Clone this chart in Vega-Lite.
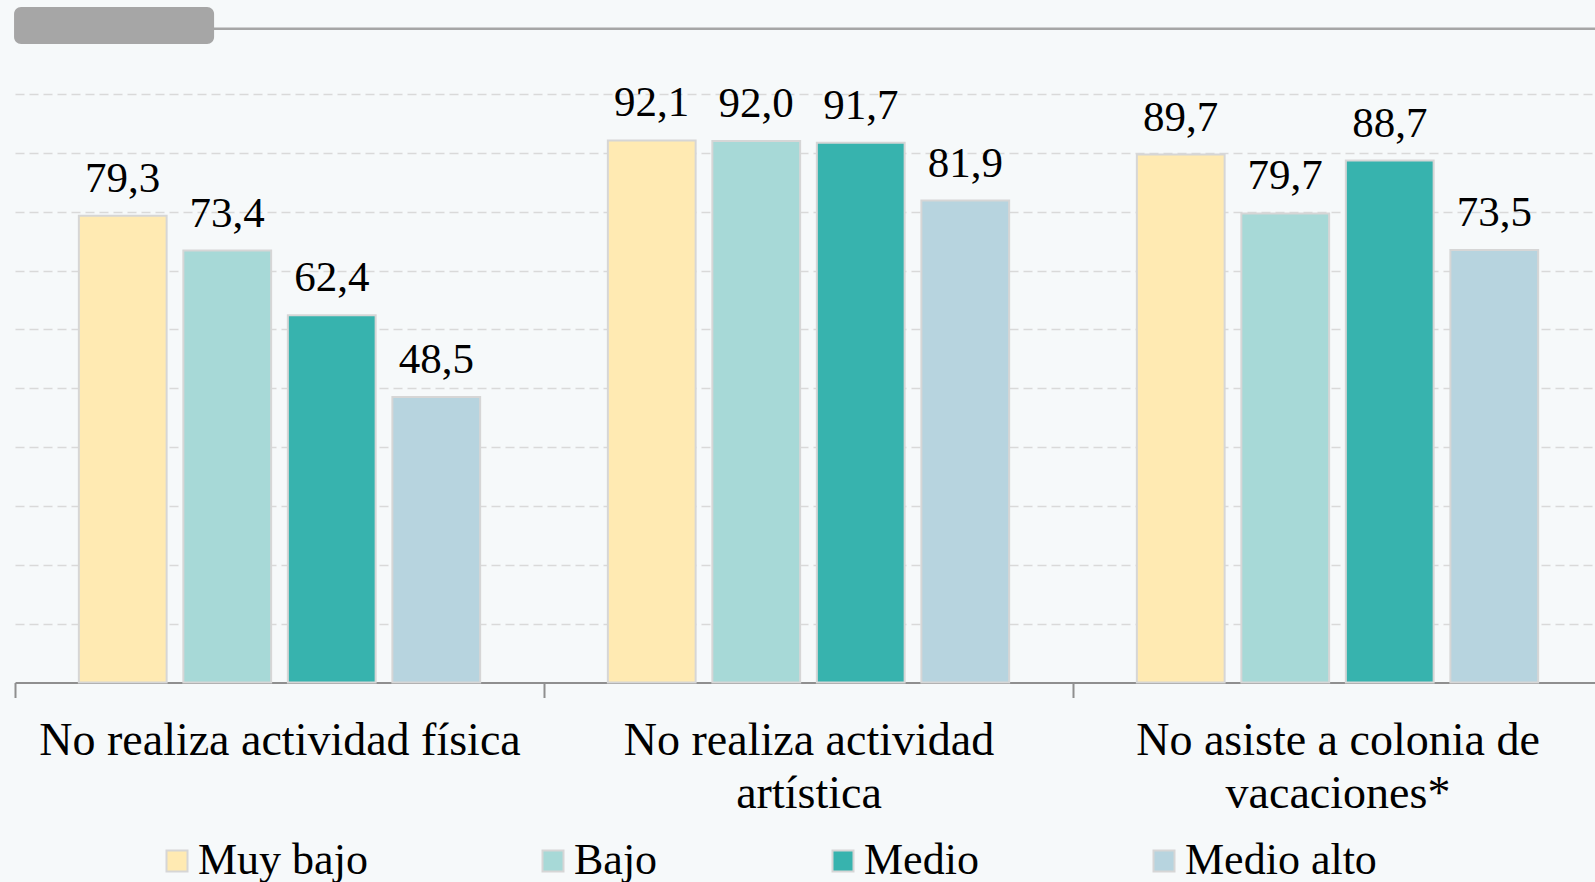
{
  "$schema": "https://vega.github.io/schema/vega-lite/v6.json",
  "width": 1580,
  "height": 588.5,
  "autosize": {"type": "none"},
  "padding": {"left": 15, "top": 94, "right": 0, "bottom": 199.5},
  "background": "#f6f9fa",
  "config": {
    "view": {"stroke": null},
    "font": "Liberation Serif",
    "locale": {"number": {"decimal": ",", "thousands": ".", "grouping": [3], "currency": ["", " €"]}}
  },
  "data": {
    "values": [
      {"categoria": "No realiza actividad física", "nivel": "Muy bajo", "valor": 79.3},
      {"categoria": "No realiza actividad física", "nivel": "Bajo", "valor": 73.4},
      {"categoria": "No realiza actividad física", "nivel": "Medio", "valor": 62.4},
      {"categoria": "No realiza actividad física", "nivel": "Medio alto", "valor": 48.5},
      {"categoria": "No realiza actividad artística", "nivel": "Muy bajo", "valor": 92.1},
      {"categoria": "No realiza actividad artística", "nivel": "Bajo", "valor": 92.0},
      {"categoria": "No realiza actividad artística", "nivel": "Medio", "valor": 91.7},
      {"categoria": "No realiza actividad artística", "nivel": "Medio alto", "valor": 81.9},
      {"categoria": "No asiste a colonia de vacaciones*", "nivel": "Muy bajo", "valor": 89.7},
      {"categoria": "No asiste a colonia de vacaciones*", "nivel": "Bajo", "valor": 79.7},
      {"categoria": "No asiste a colonia de vacaciones*", "nivel": "Medio", "valor": 88.7},
      {"categoria": "No asiste a colonia de vacaciones*", "nivel": "Medio alto", "valor": 73.5}
    ]
  },
  "resolve": {"scale": {"x": "independent"}},
  "layer": [
    {
      "data": {"values": [{}]},
      "mark": {"type": "rule", "color": "#a6a6a6", "strokeWidth": 2.6},
      "encoding": {
        "x": {"datum": 5, "type": "quantitative", "scale": {"domain": [0, 100]}, "axis": null},
        "x2": {"datum": 100},
        "y": {"datum": 111.1, "type": "quantitative"}
      }
    },
    {
      "data": {"values": [{}]},
      "mark": {"type": "rect", "color": "#a6a6a6", "cornerRadius": 7},
      "encoding": {
        "x": {"datum": -0.06, "type": "quantitative", "scale": {"domain": [0, 100]}, "axis": null},
        "x2": {"datum": 12.6},
        "y": {"datum": 108.5, "type": "quantitative"},
        "y2": {"datum": 114.8}
      }
    },
    {
      "mark": {"type": "bar", "stroke": "#d6d6d6", "strokeWidth": 2},
      "encoding": {
        "x": {
          "field": "categoria",
          "type": "nominal",
          "sort": null,
          "scale": {"range": [0, 1587], "paddingInner": 0, "paddingOuter": 0},
          "axis": {
            "title": null,
            "labelAngle": 0,
            "labelFontSize": 46,
            "labelColor": "#000000",
            "labelFont": "Liberation Serif",
            "labelLineHeight": 53,
            "labelPadding": 21,
            "labelLimit": 0,
            "tickBand": "extent",
            "tickSize": 15,
            "tickWidth": 2,
            "tickColor": "#8f8f8f",
            "domainColor": "#8f8f8f",
            "domainWidth": 2.2,
            "grid": false,
            "labelExpr": "datum.value == 'No realiza actividad artística' ? ['No realiza actividad', 'artística'] : datum.value == 'No asiste a colonia de vacaciones*' ? ['No asiste a colonia de', 'vacaciones*'] : datum.value"
          }
        },
        "xOffset": {
          "field": "nivel",
          "type": "nominal",
          "sort": ["Muy bajo", "Bajo", "Medio", "Medio alto"],
          "scale": {"paddingInner": 0.16, "paddingOuter": 0.611}
        },
        "y": {
          "field": "valor",
          "type": "quantitative",
          "scale": {"domain": [0, 100], "nice": false},
          "axis": {
            "title": null,
            "labels": false,
            "ticks": false,
            "domain": false,
            "values": [10, 20, 30, 40, 50, 60, 70, 80, 90, 100],
            "grid": true,
            "gridColor": "#d9d9d9",
            "gridWidth": 1.6,
            "gridDash": [9, 5]
          }
        },
        "color": {
          "field": "nivel",
          "type": "nominal",
          "sort": ["Muy bajo", "Bajo", "Medio", "Medio alto"],
          "scale": {"domain": ["Muy bajo", "Bajo", "Medio", "Medio alto"], "range": ["#ffeab2", "#a7d9d7", "#37b3ae", "#b7d4df"]},
          "legend": {
            "title": null,
            "orient": "none",
            "legendX": 140,
            "legendY": 745,
            "direction": "horizontal",
            "columns": 4,
            "padding": 0,
            "symbolType": "square",
            "symbolSize": 441,
            "symbolStrokeColor": "#d6d6d6",
            "symbolStrokeWidth": 2,
            "symbolOpacity": 1,
            "labelFontSize": 44,
            "labelFont": "Liberation Serif",
            "labelColor": "#000000",
            "labelOffset": -1,
            "labelLimit": 0,
            "columnPadding": 163
          }
        }
      }
    },
    {
      "mark": {"type": "text", "baseline": "alphabetic", "align": "center", "dy": -24, "fontSize": 43, "font": "Liberation Serif", "color": "#000000"},
      "encoding": {
        "x": {"field": "categoria", "type": "nominal", "sort": null, "scale": {"range": [0, 1587], "paddingInner": 0, "paddingOuter": 0}, "axis": null},
        "xOffset": {
          "field": "nivel",
          "type": "nominal",
          "sort": ["Muy bajo", "Bajo", "Medio", "Medio alto"],
          "scale": {"paddingInner": 0.16, "paddingOuter": 0.611}
        },
        "y": {"field": "valor", "type": "quantitative"},
        "text": {"field": "valor", "type": "quantitative", "format": ".1f"}
      }
    }
  ]
}
